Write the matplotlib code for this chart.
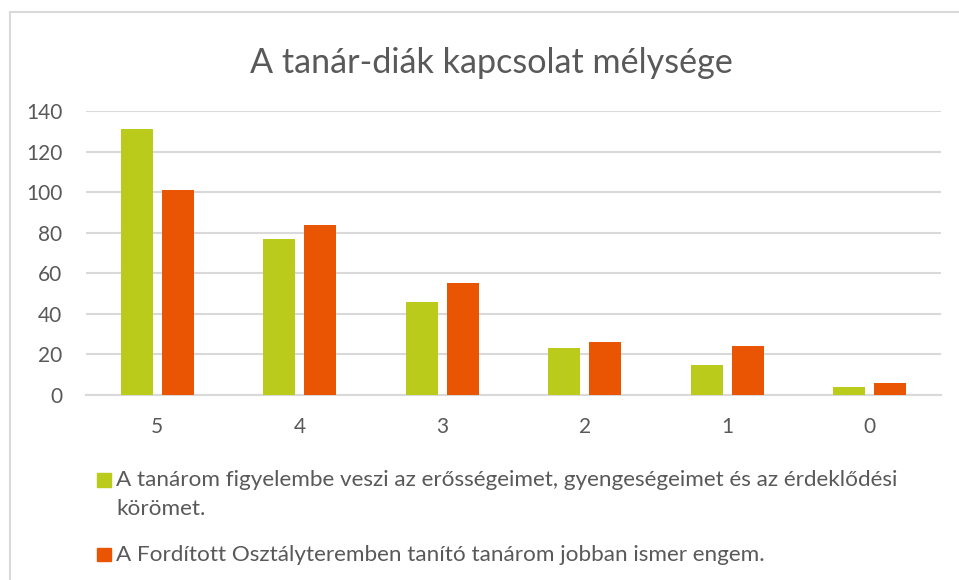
import numpy as np
import matplotlib.pyplot as plt
from matplotlib.patches import Rectangle

categories = ["5", "4", "3", "2", "1", "0"]
figyelembe = [131, 77, 46, 23, 15, 4]
jobban_ismer = [101, 84, 55, 26, 24, 6]
series_labels = [
    ["A tanárom figyelembe veszi az erősségeimet, gyengeségeimet és az érdeklődési", "körömet."],
    ["A Fordított Osztályteremben tanító tanárom jobban ismer engem."],
]
title = "A tanár-diák kapcsolat mélysége"

GREEN = "#BBCB1C"
ORANGE = "#EA5504"
TEXT = "#595959"
GRID = "#D9D9D9"

plt.rcParams["font.family"] = ["Lato", "DejaVu Sans"]

W, H = 959, 580
fig = plt.figure(figsize=(W / 100, H / 100), dpi=100)

def px(x, y):
    # pixel (from top-left) -> figure fraction
    return x / W, 1 - y / H

# chart area border, right and bottom edges run off the picture
fig.patches.append(Rectangle(px(9.5, 700), 2, (700 - 12) / H,
                             transform=fig.transFigure, fill=False, ec=GRID, lw=1.5))

ax = fig.add_axes([86 / W, 1 - 395 / H, (941 - 86) / W, (395 - 111) / H])
x = np.arange(len(categories))
w = 0.225
off = 0.143
ax.bar(x - off, figyelembe, width=w, color=GREEN, zorder=3)
ax.bar(x + off, jobban_ismer, width=w, color=ORANGE, zorder=3)

ax.set_xlim(-0.5, len(categories) - 0.5)
ax.set_ylim(0, 140)
ax.set_yticks(range(0, 141, 20))
ax.set_xticks(x)
ax.set_xticklabels(categories)
ax.yaxis.grid(True, color=GRID, lw=1.5, zorder=0)
for s in ax.spines.values():
    s.set_visible(False)
ax.spines["bottom"].set_visible(True)
ax.spines["bottom"].set_color(GRID)
ax.spines["bottom"].set_linewidth(1.5)
ax.tick_params(axis="both", length=0, labelsize=15, colors=TEXT)
ax.tick_params(axis="y", pad=17)
ax.tick_params(axis="x", pad=16)

fig.text(*px(491, 63), title, ha="center", va="center", fontsize=24.6, color=TEXT)

# legend drawn by hand so the square sits on the first line
colors = [GREEN, ORANGE]
baselines = [486.5, 561]
for col, lines, base in zip(colors, series_labels, baselines):
    fig.patches.append(Rectangle(px(97.3, base), 13.5 / W, 13.5 / H,
                                 transform=fig.transFigure, color=col))
    for i, line in enumerate(lines):
        fig.text(*px(116, base + i * 28.5), line, ha="left", va="baseline",
                 fontsize=16.2, color=TEXT)

fig.savefig("out.png", dpi=100)
